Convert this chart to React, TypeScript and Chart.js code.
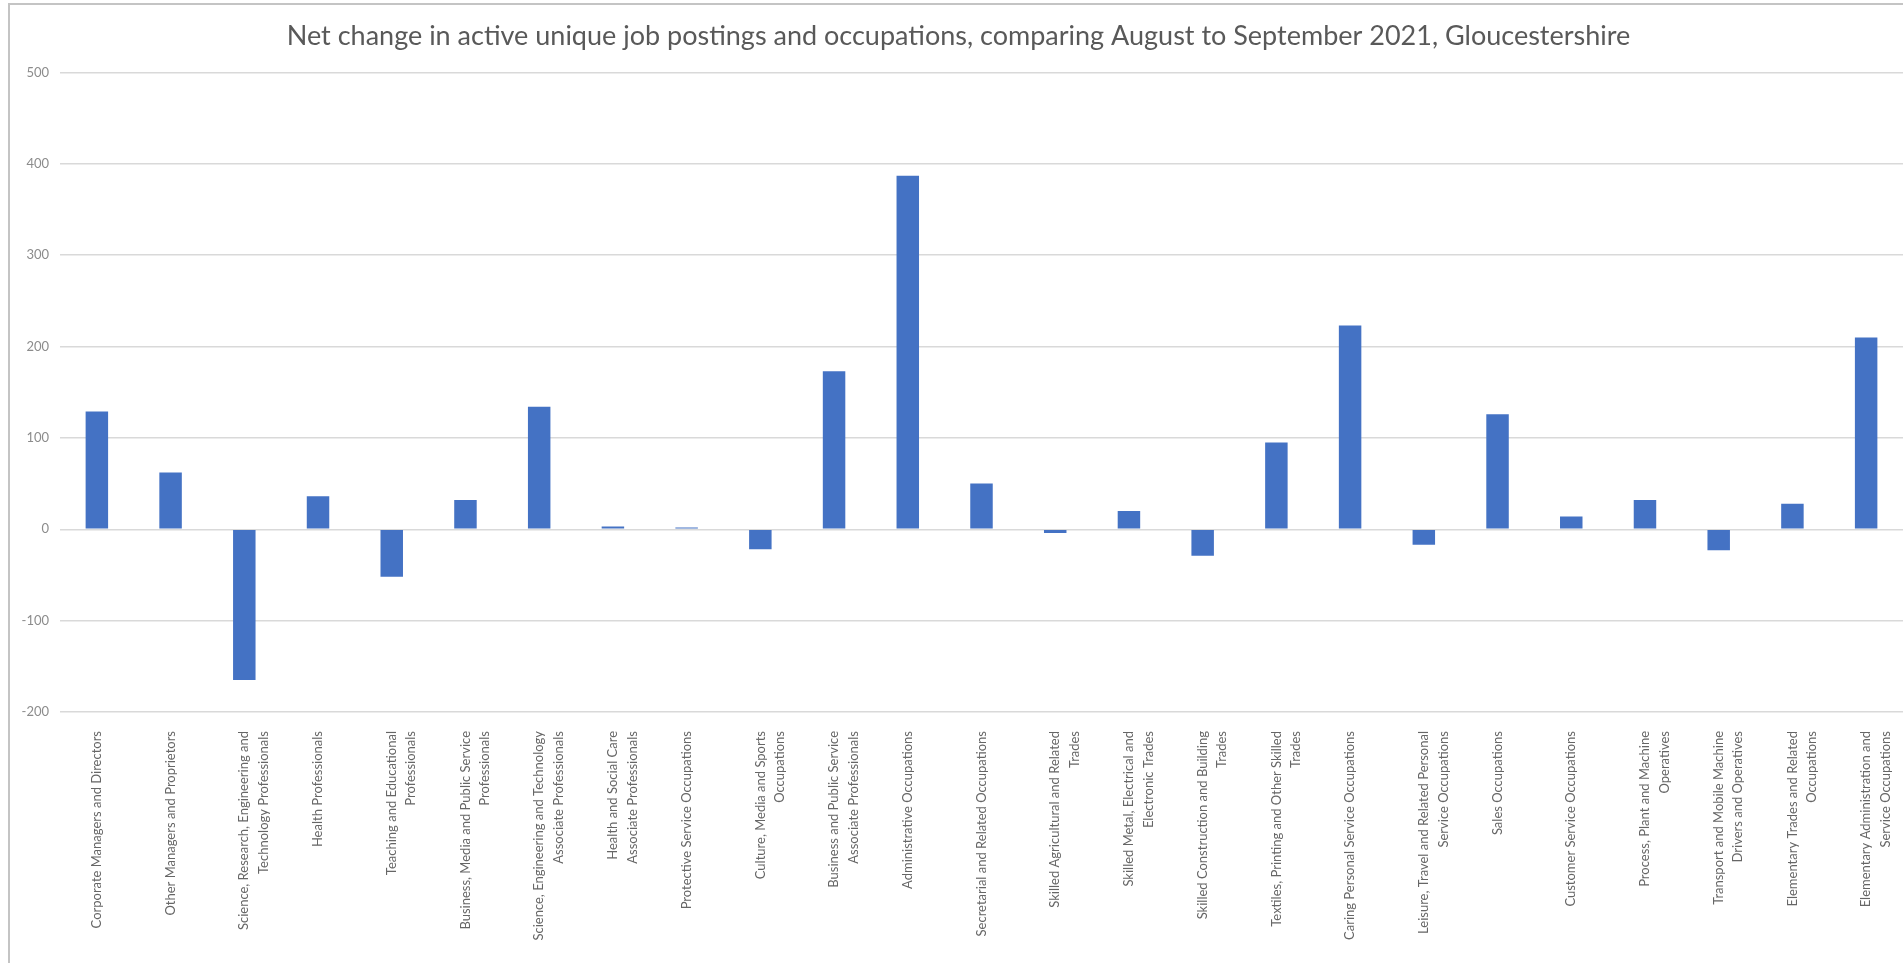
import React, { useEffect, useRef } from "react";
import { Chart, registerables } from "chart.js";

Chart.register(...registerables);

const TITLE =
  "Net change in active unique job postings and occupations, comparing August to September 2021, Gloucestershire";

const categories: (string | string[])[] = [
  "Corporate Managers and Directors",
  "Other Managers and Proprietors",
  ["Science, Research, Engineering and", "Technology Professionals"],
  "Health Professionals",
  ["Teaching and Educational", "Professionals"],
  ["Business, Media and Public Service", "Professionals"],
  ["Science, Engineering and Technology", "Associate Professionals"],
  ["Health and Social Care", "Associate Professionals"],
  "Protective Service Occupations",
  ["Culture, Media and Sports", "Occupations"],
  ["Business and Public Service", "Associate Professionals"],
  "Administrative Occupations",
  "Secretarial and Related Occupations",
  ["Skilled Agricultural and Related", "Trades"],
  ["Skilled Metal, Electrical and", "Electronic Trades"],
  ["Skilled Construction and Building", "Trades"],
  ["Textiles, Printing and Other Skilled", "Trades"],
  "Caring Personal Service Occupations",
  ["Leisure, Travel and Related Personal", "Service Occupations"],
  "Sales Occupations",
  "Customer Service Occupations",
  ["Process, Plant and Machine", "Operatives"],
  ["Transport and Mobile Machine", "Drivers and Operatives"],
  ["Elementary Trades and Related", "Occupations"],
  ["Elementary Administration and", "Service Occupations"],
];

const netChange: number[] = [
  129, 62, -165, 36, -52, 32, 134, 3, 2, -22, 173, 387, 50, -4, 20, -29, 95,
  223, -17, 126, 14, 32, -23, 28, 210,
];

const yMin = -200;
const yMax = 500;
const yStep = 100;

export default function App() {
  const canvasRef = useRef<HTMLCanvasElement | null>(null);

  useEffect(() => {
    document.body.style.margin = "0";
    document.body.style.background = "#ffffff";
    const canvas = canvasRef.current;
    if (!canvas) return;
    const chart = new Chart(canvas, {
      type: "bar",
      data: {
        labels: categories,
        datasets: [
          {
            label: "Net change",
            data: netChange,
            backgroundColor: "#4472C4",
            borderWidth: 0,
            barPercentage: 0.305,
            categoryPercentage: 1,
          },
        ],
      },
      options: {
        animation: false,
        responsive: false,
        maintainAspectRatio: false,
        layout: { padding: { left: 14, right: 0, top: 0, bottom: 0 } },
        plugins: {
          legend: { display: false },
          tooltip: { enabled: false },
          title: {
            display: true,
            text: TITLE,
            color: "#595959",
            font: { family: "Lato", size: 27, weight: "normal", lineHeight: 1.2 },
            padding: { top: 20, bottom: 20 },
          },
        },
        scales: {
          x: {
            grid: { display: false },
            border: { display: false },
            ticks: {
              autoSkip: false,
              minRotation: 90,
              maxRotation: 90,
              padding: 11,
              color: "#666666",
              font: { family: "Lato", size: 13, lineHeight: 1.5 },
            },
            afterFit: (scale: any) => {
              scale.height = 251;
              scale.paddingLeft = 0;
              scale.paddingRight = 0;
            },
          },
          y: {
            min: yMin,
            max: yMax,
            grid: { color: "#d9d9d9", lineWidth: 1.5, drawTicks: false },
            border: { display: false },
            ticks: {
              stepSize: yStep,
              padding: 11,
              color: "#8c8c8c",
              font: { family: "Lato", size: 13 },
            },
            afterFit: (scale: any) => {
              scale.width = 46;
            },
          },
        },
      },
    });
    return () => chart.destroy();
  }, []);

  return (
    <div style={{ position: "fixed", left: 0, top: 0, width: 1903, height: 963, background: "#fff" }}>
      <div style={{ position: "absolute", left: 8, top: 3, width: 1895, height: 2, background: "#c4c4c4" }} />
      <div style={{ position: "absolute", left: 8, top: 3, width: 2, height: 960, background: "#c4c4c4" }} />
      <canvas
        ref={canvasRef}
        width={1903}
        height={963}
        style={{ position: "absolute", left: 0, top: 0, width: 1903, height: 963 }}
      />
    </div>
  );
}
